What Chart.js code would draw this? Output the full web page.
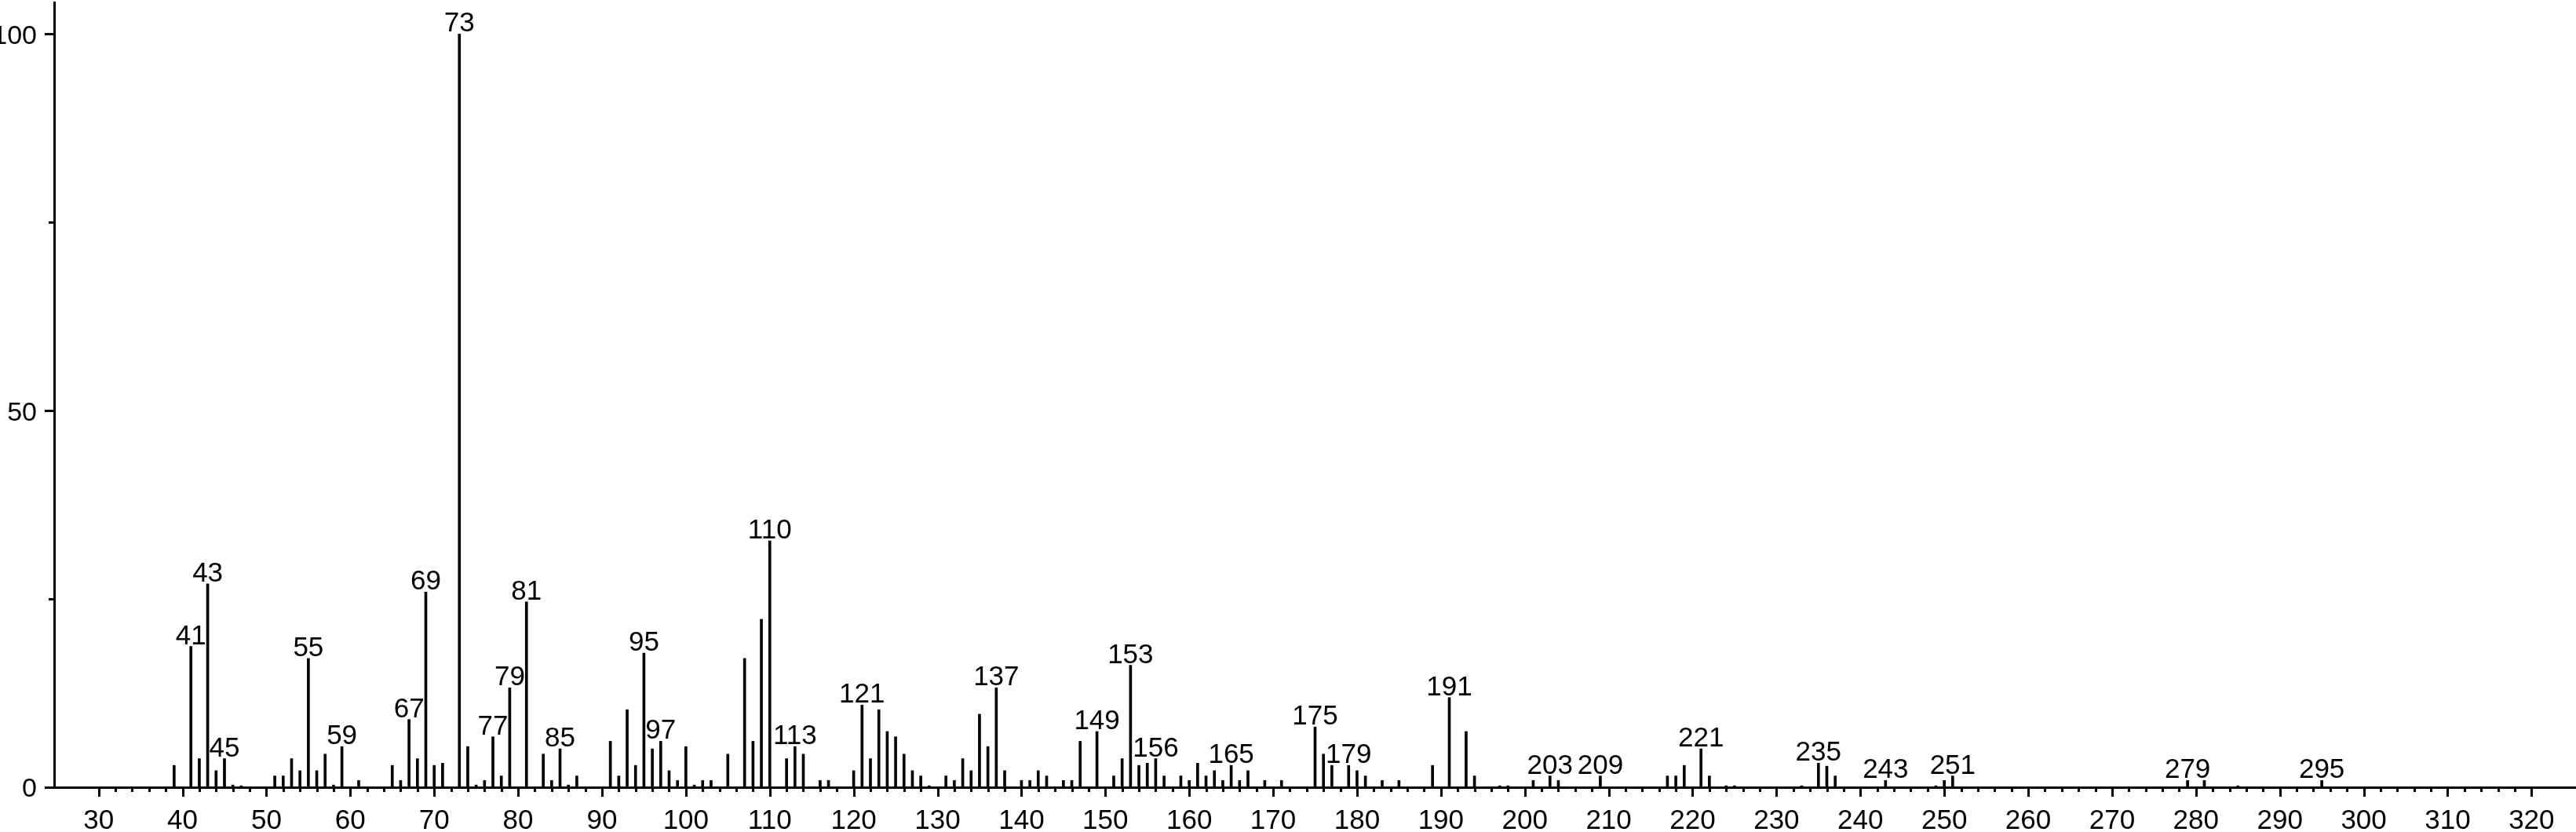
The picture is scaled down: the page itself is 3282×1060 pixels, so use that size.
<!DOCTYPE html>
<html>
<head>
<meta charset="utf-8">
<script src="https://cdn.jsdelivr.net/npm/chart.js@4.4.1/dist/chart.umd.min.js"></script>
<style>
  html, body { margin: 0; padding: 0; background: #fff; }
  #wrap { width: 3282px; height: 1060px; position: relative; }
</style>
</head>
<body>
<div id="wrap"><canvas id="c" width="3282" height="1060"></canvas></div>
<script>
// m/z values
const mz = [
  39, 41, 42, 43, 44, 45, 46, 47, 51, 52, 53, 54, 55, 56, 57, 58, 59, 61,
  65, 66, 67, 68, 69, 70, 71, 73, 74, 75, 76, 77, 78, 79, 81, 83, 84, 85,
  86, 87, 91, 92, 93, 94, 95, 96, 97, 98, 99, 100, 101, 102, 103, 105, 107,
  108, 109, 110, 112, 113, 114, 116, 117, 120, 121, 122, 123, 124, 125, 126,
  127, 128, 129, 131, 132, 133, 134, 135, 136, 137, 138, 140, 141, 142, 143,
  145, 146, 147, 149, 151, 152, 153, 154, 155, 156, 157, 159, 160, 161, 162,
  163, 164, 165, 166, 167, 169, 171, 175, 176, 177, 179, 180, 181, 183, 185,
  189, 191, 193, 194, 197, 198, 201, 203, 204, 209, 217, 218, 219, 221, 222,
  224, 225, 233, 235, 236, 237, 243, 249, 250, 251, 279, 281, 285, 295
];
// relative intensities (%)
const intensity = [
  2.9, 18.7, 3.8, 27.0, 2.2, 3.8, 0.3, 0.2, 1.5, 1.5, 3.8, 2.2, 17.1, 2.2, 4.4, 0.3, 5.4, 0.9,
  2.9, 0.9, 9.0, 3.8, 25.9, 2.9, 3.2, 100, 5.4, 0.3, 0.9, 6.7, 1.5, 13.2, 24.6, 4.4, 0.9, 5.1,
  0.3, 1.5, 6.1, 1.5, 10.3, 2.9, 17.8, 5.1, 6.1, 2.2, 0.9, 5.4, 0.3, 0.9, 0.9, 4.4, 17.1,
  6.1, 22.3, 32.7, 3.8, 5.4, 4.4, 0.9, 0.9, 2.2, 10.9, 3.8, 10.3, 7.4, 6.7, 4.4,
  2.2, 1.5, 0.2, 1.5, 0.9, 3.8, 2.2, 9.7, 5.4, 13.2, 2.2, 0.9, 0.9, 2.2, 1.5,
  0.9, 0.9, 6.1, 7.4, 1.5, 3.8, 16.2, 2.9, 3.2, 3.8, 1.5, 1.5, 0.9, 3.2, 1.5,
  2.2, 0.9, 2.9, 0.9, 2.2, 0.9, 0.9, 8.0, 4.4, 2.9, 2.9, 2.2, 1.5, 0.9, 0.9,
  2.9, 11.9, 7.4, 1.5, 0.2, 0.2, 0.9, 1.5, 0.9, 1.5, 1.5, 1.5, 2.9, 5.1, 1.5,
  0.2, 0.2, 0.2, 3.2, 2.8, 1.5, 0.9, 0.2, 0.9, 1.5, 0.9, 0.9, 0.2, 0.9
];
// peaks that carry an m/z label
const labeledPeaks = [41, 43, 45, 55, 59, 67, 69, 73, 77, 79, 81, 85, 95, 97, 110, 113,
  121, 137, 149, 153, 156, 165, 175, 179, 191, 203, 209, 221, 235, 243, 251, 279, 295];
// axis ticks
const xMajorTicks = [30, 40, 50, 60, 70, 80, 90, 100, 110, 120, 130, 140, 150, 160, 170,
  180, 190, 200, 210, 220, 230, 240, 250, 260, 270, 280, 290, 300, 310, 320];
const yMajorTicks = [0, 50, 100];
const yMinorTicks = [25, 75];

const FAMILY = '"Liberation Sans", Arial, sans-serif';
const FONT = { family: FAMILY, size: 35 };
const YFONT = { family: FAMILY, size: 34 };

const points = mz.map((m, i) => ({ x: m, y: intensity[i] }));

const tickMarks = {
  id: 'tickMarks',
  afterDraw(chart) {
    const { ctx, chartArea } = chart;
    const xs = chart.scales.x, ys = chart.scales.y;
    ctx.save();
    ctx.strokeStyle = '#000';
    ctx.lineWidth = 3;
    ctx.lineCap = 'butt';
    const first = xMajorTicks[0], last = xMajorTicks[xMajorTicks.length - 1];
    for (let v = first; v <= last; v += 2) {
      const px = Math.round(xs.getPixelForValue(v)) + 0.5;
      const len = xMajorTicks.includes(v) ? 12 : 6;
      ctx.beginPath();
      ctx.moveTo(px, chartArea.bottom);
      ctx.lineTo(px, chartArea.bottom + len);
      ctx.stroke();
    }
    yMajorTicks.concat(yMinorTicks).forEach(v => {
      const py = Math.round(ys.getPixelForValue(v)) + 0.5;
      const len = yMajorTicks.includes(v) ? 12 : 7;
      ctx.beginPath();
      ctx.moveTo(chartArea.left, py);
      ctx.lineTo(chartArea.left - len, py);
      ctx.stroke();
    });
    ctx.restore();
  }
};

const peakLabels = {
  id: 'peakLabels',
  afterDatasetsDraw(chart) {
    const { ctx } = chart;
    const meta = chart.getDatasetMeta(0);
    ctx.save();
    ctx.fillStyle = '#000';
    ctx.font = FONT.size + 'px ' + FONT.family;
    ctx.textAlign = 'center';
    ctx.textBaseline = 'alphabetic';
    labeledPeaks.forEach(p => {
      const idx = mz.indexOf(p);
      if (idx < 0) return;
      const el = meta.data[idx];
      ctx.fillText(String(p), el.x, el.y - 3);
    });
    ctx.restore();
  }
};

function noPad(s) {
  s.paddingTop = 0; s.paddingBottom = 0; s.paddingLeft = 0; s.paddingRight = 0;
}

new Chart(document.getElementById('c'), {
  type: 'bar',
  data: {
    datasets: [{
      data: points,
      backgroundColor: '#000',
      borderWidth: 0,
      barThickness: 3
    }]
  },
  options: {
    responsive: false,
    animation: false,
    devicePixelRatio: 1,
    layout: { padding: { top: 3, left: 0, right: 0, bottom: 0 } },
    plugins: { legend: { display: false }, tooltip: { enabled: false } },
    scales: {
      x: {
        type: 'linear',
        offset: false,
        min: 24.7,
        max: 325.3,
        grid: { display: false, offset: false },
        border: { display: true, color: '#000', width: 3 },
        afterBuildTicks: s => { s.ticks = xMajorTicks.map(v => ({ value: v })); },
        ticks: { font: FONT, color: '#000', padding: 14, maxRotation: 0, autoSkip: false },
        afterFit: s => { s.height = 57; noPad(s); }
      },
      y: {
        min: 0,
        max: 104.2,
        grid: { display: false },
        border: { display: true, color: '#000', width: 3 },
        afterBuildTicks: s => { s.ticks = yMajorTicks.map(v => ({ value: v })); },
        ticks: { font: YFONT, color: '#000', padding: 14, labelOffset: 3 },
        afterFit: s => { s.width = 69; noPad(s); }
      }
    }
  },
  plugins: [tickMarks, peakLabels]
});
</script>
</body>
</html>
